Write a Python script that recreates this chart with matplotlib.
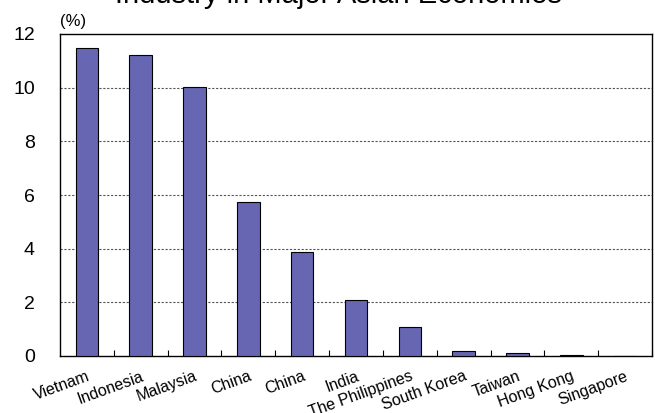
import numpy as np
import matplotlib
matplotlib.use("Agg")
from matplotlib import pyplot as plt

countries = ["Vietnam", "Indonesia", "Malaysia", "China", "China", "India",
             "The Philippines", "South Korea", "Taiwan", "Hong Kong", "Singapore"]
values = [11.48, 11.22, 10.02, 5.75, 3.86, 2.1, 1.08, 0.18, 0.1, 0.05, 0.0]

plt.rcParams['font.family'] = ['Liberation Sans', 'DejaVu Sans']

fig = plt.figure(figsize=(6.55, 4.13), dpi=100)
ax = fig.add_axes([60/655, 1-356/413, 592/655, 322/413])

x = np.arange(len(countries))
ax.bar(x, values, width=0.42, color='#6666b3', edgecolor='black', linewidth=0.8, zorder=3)

ax.set_xlim(-0.5, len(countries) - 0.5)
ax.set_ylim(0, 12)
ax.set_yticks([0, 2, 4, 6, 8, 10, 12])
ax.tick_params(axis='y', length=0, pad=18, labelsize=14)
for yv in [2, 4, 6, 8, 10]:
    ax.axhline(yv, color='#555555', linestyle=(0, (2, 1.5)), linewidth=0.8, zorder=1)

# tick marks between categories, labels under bars
ax.set_xticks(x + 0.5, minor=True)
ax.set_xticks(x)
ax.set_xticklabels(countries, rotation=20, ha='right', rotation_mode='anchor', fontsize=11.5)
ax.tick_params(axis='x', which='major', length=0, pad=9)
ax.tick_params(axis='x', which='minor', direction='in', length=4, width=0.8)

for s in ax.spines.values():
    s.set_linewidth(1.0)

ax.text(0.0, 1.015, "(%)", transform=ax.transAxes, fontsize=12, ha='left', va='bottom')
fig.text(338/655, 1 - 3/413, "Industry in Major Asian Economies", ha='center', va='baseline', fontsize=21)

fig.savefig("out.png", dpi=100)
